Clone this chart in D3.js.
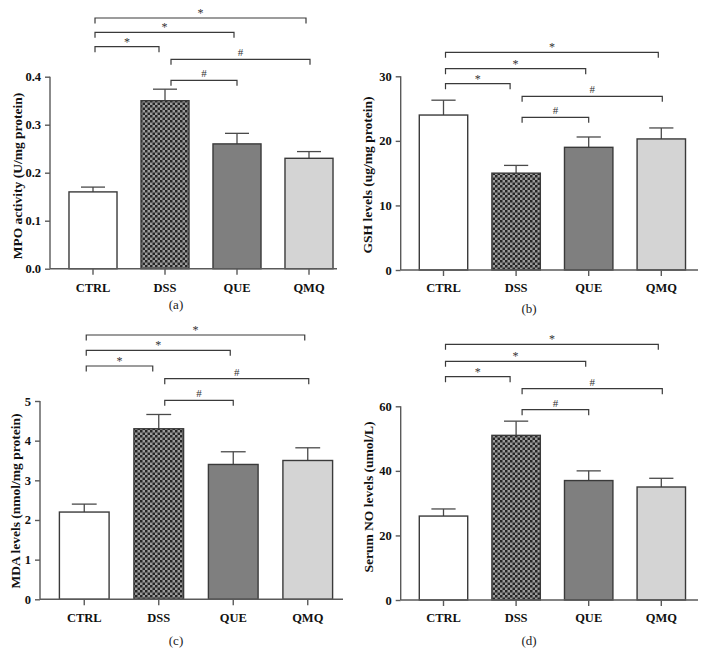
<!DOCTYPE html>
<html><head><meta charset="utf-8">
<script src="https://cdn.jsdelivr.net/npm/d3@7"></script>
<style>
body{margin:0;background:#fff;}
svg{display:block;}
text{font-family:"Liberation Serif","Times New Roman",serif;}
</style></head>
<body><svg id="c" width="706" height="666"></svg>
<script>
// ---------- data ----------
const categories = ["CTRL","DSS","QUE","QMQ"];

const mpoValues = [0.16, 0.35, 0.26, 0.23];
const mpoErrors = [0.01, 0.024, 0.022, 0.014];
const mpoTicks  = [0, 0.1, 0.2, 0.3, 0.4];

const gshValues = [24.0, 15.0, 19.0, 20.3];
const gshErrors = [2.3, 1.2, 1.6, 1.7];
const gshTicks  = [0, 10, 20, 30];

const mdaValues = [2.2, 4.3, 3.4, 3.5];
const mdaErrors = [0.2, 0.36, 0.32, 0.32];
const mdaTicks  = [0, 1, 2, 3, 4, 5];

const noValues  = [26, 51, 37, 35];
const noErrors  = [2.2, 4.4, 3.0, 2.7];
const noTicks   = [0, 20, 40, 60];

// significance brackets: [from category, to category, symbol]
const brackets = [
  ["CTRL","QMQ","*"],
  ["CTRL","QUE","*"],
  ["CTRL","DSS","*"],
  ["DSS","QMQ","#"],
  ["DSS","QUE","#"]
];

const yLabels = ["MPO activity (U/mg protein)","GSH levels (ug/mg protein)",
                 "MDA levels (nmol/mg protein)","Serum NO levels (umol/L)"];
const panelTags = ["(a)","(b)","(c)","(d)"];

// ---------- layout ----------
const panels = [
  {values:mpoValues, errors:mpoErrors, ticks:mpoTicks, fmt:d3.format(".1f"),
   axisX:50, y0:268.7, yTop:76.7, xEnd:337, band:[57,345],
   labX:17, labY:176, catY:291.5, tagX:176, tagY:309,
   bracketY:[18,32.3,46.7,59.3,80.3]},
  {values:gshValues, errors:gshErrors, ticks:gshTicks, fmt:d3.format("d"),
   axisX:400.7, y0:270, yTop:76.3, xEnd:698, band:[407.2,697.6],
   labX:367, labY:175, catY:291.5, tagX:529, tagY:313,
   bracketY:[52.3,68.7,83.7,96.3,117.3]},
  {values:mdaValues, errors:mdaErrors, ticks:mdaTicks, fmt:d3.format("d"),
   axisX:40, y0:599.3, yTop:401, xEnd:343, band:[47,345],
   labX:15, labY:501, catY:621.5, tagX:176, tagY:645,
   bracketY:[335,350.3,366,378.7,400.3]},
  {values:noValues, errors:noErrors, ticks:noTicks, fmt:d3.format("d"),
   axisX:400.7, y0:600, yTop:406.3, xEnd:698, band:[407.2,697.6],
   labX:368, labY:497, catY:621.5, tagX:529, tagY:645,
   bracketY:[344.3,361.3,376.7,388.7,409.7]}
];

const fills = ["#ffffff","url(#checker)","#7f7f7f","#d4d4d4"];
const axisColor = "#5a5a5a";
const svg = d3.select("#c");

// checker pattern
const defs = svg.append("defs");
const pat = defs.append("pattern").attr("id","checker").attr("patternUnits","userSpaceOnUse")
  .attr("width",5).attr("height",5);
pat.append("rect").attr("width",5).attr("height",5).attr("fill","#9c9c9c");
pat.append("rect").attr("width",2.5).attr("height",2.5).attr("fill","#262626");
pat.append("rect").attr("x",2.5).attr("y",2.5).attr("width",2.5).attr("height",2.5).attr("fill","#262626");

panels.forEach((p,i)=>{
  const g = svg.append("g");
  const ymax = p.ticks[p.ticks.length-1];
  const y = d3.scaleLinear().domain([0,ymax]).range([p.y0,p.yTop]);
  const x = d3.scaleBand().domain(categories).range(p.band).paddingInner(0.333).paddingOuter(0.1665);
  const bw = x.bandwidth();
  const cx = c => x(c)+bw/2;

  // error bars (drawn before bars so the stem sits behind)
  categories.forEach((c,k)=>{
    const v=p.values[k], e=p.errors[k];
    g.append("line").attr("x1",cx(c)).attr("x2",cx(c)).attr("y1",y(v)).attr("y2",y(v+e))
      .attr("stroke","#4a4a4a").attr("stroke-width",1.3);
    g.append("line").attr("x1",cx(c)-bw/4).attr("x2",cx(c)+bw/4).attr("y1",y(v+e)).attr("y2",y(v+e))
      .attr("stroke","#4a4a4a").attr("stroke-width",1.3);
  });

  // bars
  g.selectAll("rect.bar").data(categories).join("rect").attr("class","bar")
    .attr("x",c=>x(c)).attr("width",bw)
    .attr("y",(c,k)=>y(p.values[k])).attr("height",(c,k)=>p.y0-y(p.values[k]))
    .attr("fill",(c,k)=>fills[k]).attr("stroke","#3a3a3a").attr("stroke-width",1.4);

  // y axis
  const ya = g.append("g").attr("transform",`translate(${p.axisX},0)`)
    .call(d3.axisLeft(y).tickValues(p.ticks).tickFormat(p.fmt).tickSize(5).tickPadding(4));
  ya.select(".domain").attr("stroke",axisColor).attr("stroke-width",1.4).attr("d",`M0,${p.y0}V${p.yTop}`);
  ya.selectAll(".tick line").attr("stroke",axisColor).attr("stroke-width",1.4);
  ya.selectAll(".tick text").attr("font-family","Liberation Serif").attr("font-weight","bold")
    .attr("font-size",12.5).attr("fill","#111");

  // x axis
  const xa = g.append("g").attr("transform",`translate(0,${p.y0})`)
    .call(d3.axisBottom(x).tickSize(6).tickFormat(""));
  xa.select(".domain").attr("stroke",axisColor).attr("stroke-width",1.4).attr("d",`M${p.axisX},0H${p.xEnd}`);
  xa.selectAll(".tick line").attr("stroke",axisColor).attr("stroke-width",1.4);
  g.selectAll("text.cat").data(categories).join("text").attr("class","cat")
    .attr("x",c=>cx(c)).attr("y",p.catY).attr("text-anchor","middle")
    .attr("font-weight","bold").attr("font-size",12.5).attr("fill","#111").text(c=>c);

  // y label
  g.append("text").attr("transform",`translate(${p.labX},${p.labY}) rotate(-90)`)
    .attr("text-anchor","middle").attr("dominant-baseline","central")
    .attr("font-weight","bold").attr("font-size",13.5).attr("fill","#111").text(yLabels[i]);

  // panel tag
  g.append("text").attr("x",p.tagX).attr("y",p.tagY).attr("text-anchor","middle")
    .attr("font-size",13).attr("fill","#222").text(panelTags[i]);

  // brackets
  brackets.forEach((b,k)=>{
    const by = p.bracketY[k];
    const x1 = cx(b[0]) + (b[0]==="DSS"?6:2);
    const x2 = cx(b[1]) + (b[1]==="DSS"?-6:(b[1]==="QUE"?(b[0]==="DSS"?0:-3):(b[0]==="DSS"?1:-3)));
    g.append("path").attr("d",`M${x1},${by+5.5}V${by}H${x2}V${by+5.5}`)
      .attr("fill","none").attr("stroke","#3a3a3a").attr("stroke-width",1.2);
    g.append("text").attr("x",(x1+x2)/2).attr("y",b[2]==="*"?by-1:by-3).attr("text-anchor","middle")
      .attr("font-size",b[2]==="*"?12:11).attr("fill","#333").text(b[2]);
  });
});
</script></body></html>
